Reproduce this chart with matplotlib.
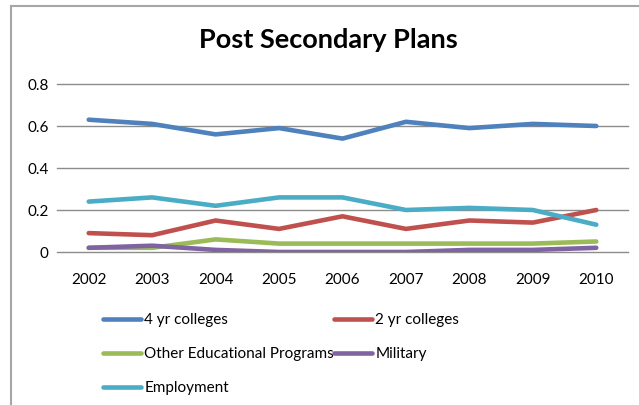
import matplotlib
matplotlib.use("Agg")
import matplotlib.pyplot as plt
from matplotlib.lines import Line2D

plt.rcParams['font.family'] = ['Lato', 'DejaVu Sans']

years = ['2002', '2003', '2004', '2005', '2006', '2007', '2008', '2009', '2010']
four_yr = [0.63, 0.61, 0.56, 0.59, 0.54, 0.62, 0.59, 0.61, 0.60]
two_yr = [0.09, 0.08, 0.15, 0.11, 0.17, 0.11, 0.15, 0.14, 0.20]
other_ed = [0.02, 0.02, 0.06, 0.04, 0.04, 0.04, 0.04, 0.04, 0.05]
military = [0.02, 0.03, 0.01, 0.00, 0.00, 0.00, 0.01, 0.01, 0.02]
employment = [0.24, 0.26, 0.22, 0.26, 0.26, 0.20, 0.21, 0.20, 0.13]
y_ticks = [0, 0.2, 0.4, 0.6, 0.8]
y_labels = ['0', '0.2', '0.4', '0.6', '0.8']

series = [
    ('4 yr colleges', four_yr, '#4F81BD'),
    ('2 yr colleges', two_yr, '#C0504D'),
    ('Other Educational Programs', other_ed, '#9BBB59'),
    ('Military', military, '#8064A2'),
    ('Employment', employment, '#4BACC6'),
]

W, H = 639, 405
fig = plt.figure(figsize=(W / 100, H / 100), dpi=100)
ax = fig.add_axes([57 / W, 1 - 252 / H, (628 - 57) / W, (252 - 84) / H])

x = list(range(len(years)))
handles = {}
for name, vals, color in series:
    ln, = ax.plot(x, vals, color=color, lw=3.3, solid_capstyle='round',
                  solid_joinstyle='round', label=name, zorder=3)
    handles[name] = ln

ax.set_xlim(-0.5, len(years) - 0.5)
ax.set_ylim(0, 0.8)
ax.set_yticks(y_ticks)
ax.set_yticklabels(y_labels)
ax.set_xticks(x)
ax.set_xticklabels(years)
ax.tick_params(length=0, labelsize=11)
ax.tick_params(axis='y', pad=6)
ax.tick_params(axis='x', pad=15)
ax.grid(axis='y', color='#8C8C8C', lw=1.0, zorder=1)
for gl in ax.get_ygridlines():
    gl.set_clip_on(False)
ax.set_axisbelow(True)
for s in ax.spines.values():
    s.set_visible(False)

fig.text(328 / W, 1 - 40 / H, 'Post Secondary Plans', ha='center', va='center',
         fontsize=19.5, fontweight='bold')

# chart frame: top and left edges
fig.add_artist(Line2D([10.5 / W, 10.5 / W], [0, 1 - 5.5 / H], color='#A6A6A6',
                      lw=1.5, transform=fig.transFigure))
fig.add_artist(Line2D([10.5 / W, 1], [1 - 5.5 / H, 1 - 5.5 / H], color='#A6A6A6',
                      lw=1.5, transform=fig.transFigure))

# legend filled column by column, so order gives row-wise reading
order = ['4 yr colleges', 'Other Educational Programs', 'Employment',
         '2 yr colleges', 'Military']
leg = fig.legend(handles=[handles[n] for n in order], loc='upper left',
                 bbox_to_anchor=(97 / W, 1 - 307 / H), ncol=2, frameon=False,
                 fontsize=11, handlelength=2.5, handletextpad=0.2,
                 columnspacing=0.0, labelspacing=1.32, borderaxespad=0)

fig.savefig('out.png', dpi=100)
